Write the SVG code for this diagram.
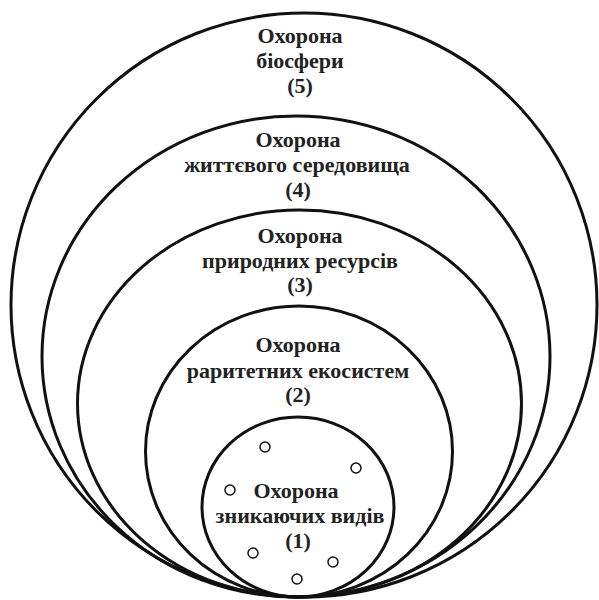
<svg xmlns="http://www.w3.org/2000/svg" width="599" height="600" viewBox="0 0 599 600">
<style>
.ring{fill:none;stroke:#111;stroke-width:3}
.dot{fill:#fff;stroke:#111;stroke-width:1.5}
text{font-family:"Liberation Serif","Times New Roman",serif;font-weight:bold;font-size:22px;fill:#222;text-anchor:middle}
</style>
<rect width="599" height="600" fill="#fff"/>
<g id="n5">
<ellipse class="ring" cx="304" cy="305" rx="293" ry="292"/>
<text x="300" y="43">Охорона</text>
<text x="300" y="68">біосфери</text>
<text x="300" y="93">(5)</text>
</g>
<g id="n4">
<ellipse class="ring" cx="296" cy="356.5" rx="254" ry="240.5"/>
<text x="298" y="147">Охорона</text>
<text x="297" y="172">життєвого середовища</text>
<text x="298" y="197">(4)</text>
</g>
<g id="n3">
<ellipse class="ring" cx="299.5" cy="403.5" rx="222" ry="193.5"/>
<text x="300" y="243">Охорона</text>
<text x="300" y="268">природних ресурсів</text>
<text x="300" y="292">(3)</text>
</g>
<g id="n2">
<ellipse class="ring" cx="299" cy="451.5" rx="153.5" ry="145.5"/>
<text x="298" y="352">Охорона</text>
<text x="298" y="378">раритетних екосистем</text>
<text x="298" y="402">(2)</text>
</g>
<g id="n1">
<ellipse class="ring" cx="298" cy="507" rx="96" ry="90"/>
<text x="296" y="498">Охорона</text>
<text x="300" y="523">зникаючих видів</text>
<text x="298" y="548">(1)</text>
<circle class="dot" cx="265" cy="447" r="5"/>
<circle class="dot" cx="356" cy="468" r="5"/>
<circle class="dot" cx="230" cy="490" r="5"/>
<circle class="dot" cx="253" cy="553" r="5"/>
<circle class="dot" cx="333" cy="562" r="5"/>
<circle class="dot" cx="297" cy="579" r="5"/>
</g>
<g id="connectors"/>
</svg>
